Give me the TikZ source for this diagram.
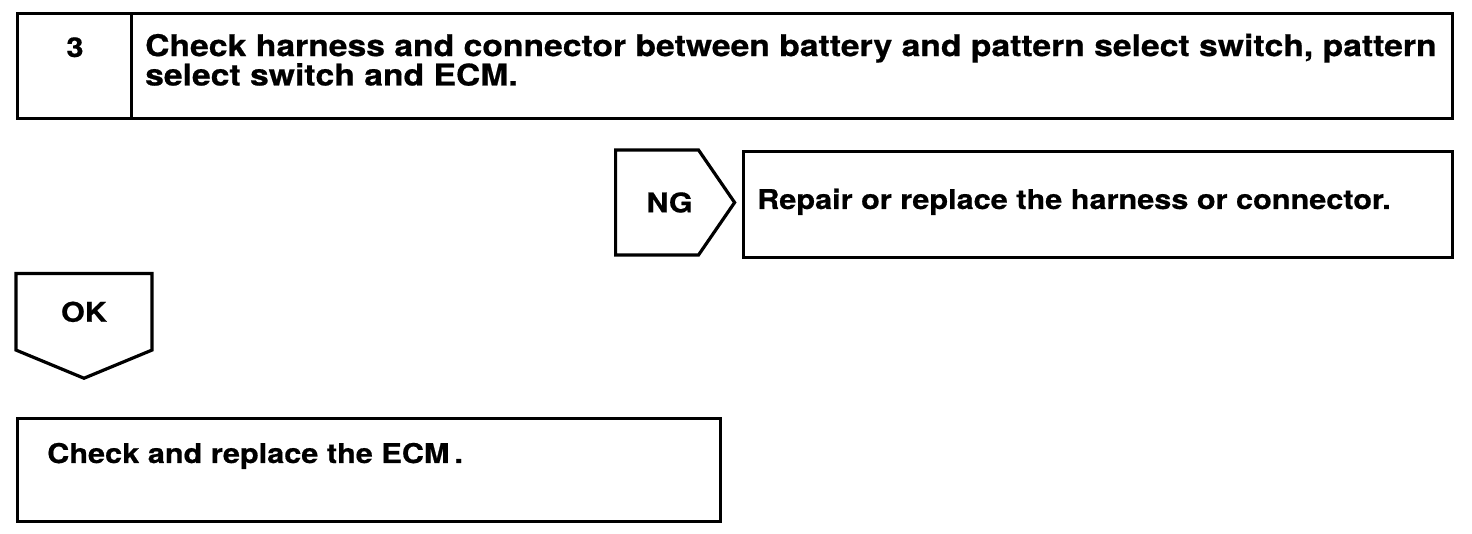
\documentclass[tikz,border=0pt]{standalone}
\usepackage{fontspec}
\setmainfont{TeX Gyre Heros}[FakeStretch=1.127, FakeBold=0.6]
\usetikzlibrary{positioning,shapes.symbols,calc}

\begin{document}
\begin{tikzpicture}[
    x=1bp, y=1bp,
    font=\fontsize{27.3}{29.5}\selectfont\bfseries,
    stepbox/.style={draw, line width=3.2bp, inner sep=0pt, anchor=north west},
    tagbox/.style={draw, line width=3.2bp, shape=signal, signal from=nowhere, inner sep=0pt},
    txt/.style={inner sep=0pt, align=left, anchor=base west}
  ]
    \useasboundingbox (0,0) rectangle (1472,534);

    % step 3 header
    \node[stepbox, minimum width=114bp, minimum height=105bp] (numcell) at (16,522) {};
    \node[stepbox, minimum width=1321bp, minimum height=105bp] (chkcell) at (130,522) {};
    \node[inner sep=0pt, anchor=base] (num) at (75,477) {3};
    \node[txt, font=\fontsize{30}{29.5}\selectfont\bfseries] (chktxt) at (145,448.5)
      {Check harness and connector between battery and pattern select switch, pattern\\
       select switch and ECM.};

    % NG branch
    \node[tagbox, signal to=east, signal pointer angle=111,
          minimum width=119bp, minimum height=105bp, anchor=west] (ng) at (614,331.5)
      {\hspace*{25bp}NG};
    \node[stepbox, minimum width=709bp, minimum height=106bp] (repair) at (742,384) {};
    \node[txt] (repairtxt) at (757,325) {Repair or replace the harness or connector.};

    % OK branch
    \node[tagbox, signal to=south, signal pointer angle=135,
          minimum width=136bp, minimum height=86bp, anchor=north] (ok) at (84,262) {OK};
    \node[stepbox, minimum width=703bp, minimum height=103bp] (ecm) at (16,117) {};
    \node[txt] (ecmtxt) at (47,71) {Check and replace the ECM\kern5bp.};
  \end{tikzpicture}
\end{document}
